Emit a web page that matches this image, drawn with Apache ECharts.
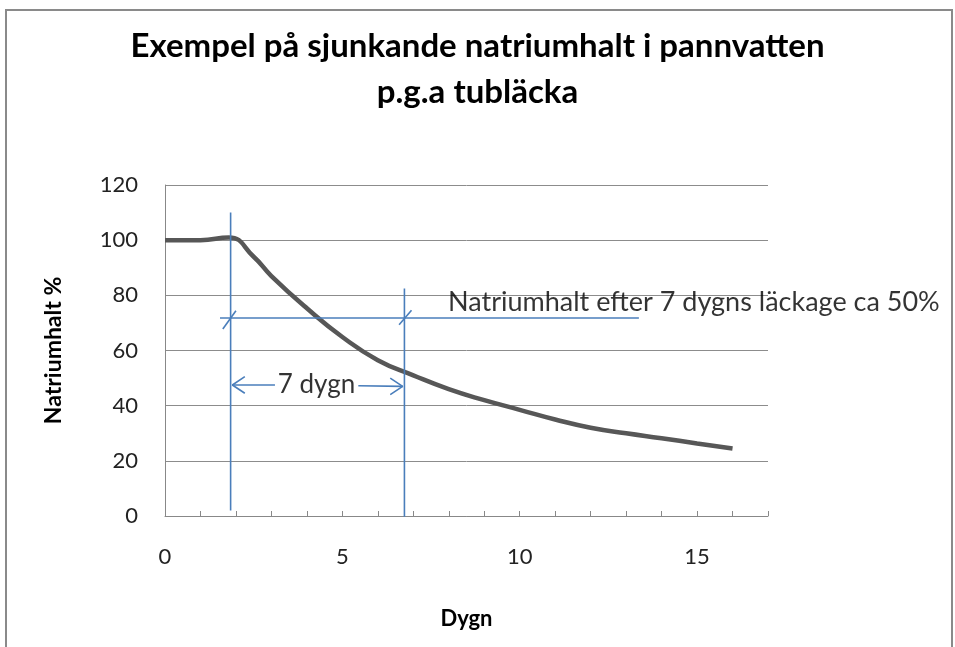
<!DOCTYPE html>
<html><head><meta charset="utf-8">
<script src="https://cdn.jsdelivr.net/npm/echarts@6/dist/echarts.min.js"></script>
<style>html,body{margin:0;padding:0;background:#fff}#c{width:955px;height:647px}</style>
</head><body><div id="c"></div>
<script>
// Data
const days = [0, 1, 1.8, 2.5, 3, 4, 5, 6, 7, 8, 9, 10, 11, 12, 13, 14, 15, 16];
const sodium = [100, 100, 101, 94, 87, 75.3, 64.9, 56.5, 51, 46, 42, 38.5, 35, 32, 30, 28.2, 26.3, 24.5];
const titleLines = ['Exempel på sjunkande natriumhalt i pannvatten', 'p.g.a tubläcka'];
const xName = 'Dygn';
const yName = 'Natriumhalt %';
const xLabelValues = [0, 5, 10, 15];
// annotation geometry (data units)
const startDay = 1.85, endDay = 6.75;
const levelY = 71.8;
const arrowY = 47.5;
const noteText = 'Natriumhalt efter 7 dygns läckage ca 50%';
const spanText = '7 dygn';

const FONT = 'Lato, "Open Sans", sans-serif';
const blue = '#4a7ebb';
const chart = echarts.init(document.getElementById('c'));

function seg(pts) {
  return {type: 'line', data: pts, symbol: 'none', silent: true, z: 5,
    lineStyle: {color: blue, width: 1.6}, animation: false};
}

chart.setOption({
  animation: false,
  title: {
    text: titleLines.join('\n'), left: 'center', top: 18,
    textStyle: {fontFamily: FONT, fontWeight: 'bold', fontSize: 33, color: '#000', lineHeight: 46}
  },
  grid: {left: 165, right: 187, top: 185, bottom: 131},
  xAxis: {
    type: 'value', min: 0, max: 17, interval: 1,
    name: xName, nameLocation: 'middle', nameGap: 92,
    nameTextStyle: {fontFamily: FONT, fontWeight: 'bold', fontSize: 22, color: '#000'},
    axisLine: {lineStyle: {color: '#888', width: 1}},
    axisTick: {show: true, inside: true, length: 5, lineStyle: {color: '#888'}},
    axisLabel: {margin: 30, fontFamily: FONT, fontSize: 22, color: '#222',
      formatter: v => xLabelValues.indexOf(v) >= 0 ? String(v) : ''},
    splitLine: {show: false}
  },
  yAxis: {
    type: 'value', min: 0, max: 120, interval: 20,
    name: yName, nameLocation: 'middle', nameGap: 100, nameRotate: 90,
    nameTextStyle: {fontFamily: FONT, fontWeight: 'bold', fontSize: 23, color: '#000'},
    axisLine: {show: true, lineStyle: {color: '#888', width: 1}},
    axisTick: {show: false},
    axisLabel: {margin: 27, fontFamily: FONT, fontSize: 22, color: '#222'},
    splitLine: {lineStyle: {color: '#8c8c8c', width: 1}}
  },
  graphic: [{type: 'rect', shape: {x: 6, y: 10, width: 946, height: 660},
    style: {fill: 'none', stroke: '#8a8a8a', lineWidth: 2}, silent: true}],
  series: [
    {type: 'line', data: days.map((d, i) => [d, sodium[i]]), smooth: 0.5, symbol: 'none',
      lineStyle: {color: '#575757', width: 4.5}, z: 3},
    // vertical at start of leak
    seg([[startDay, 2], [startDay, 110]]),
    // vertical at 7 days
    seg([[endDay, -0.8], [endDay, 82.5]]),
    // horizontal level line
    seg([[1.55, levelY], [13.36, levelY]]),
    // slash marks
    seg([[startDay - 0.22, levelY - 4], [startDay + 0.15, levelY + 2.6]]),
    seg([[endDay - 0.15, levelY - 2.5], [endDay + 0.2, levelY + 2.8]]),
    // arrow left part
    seg([[startDay + 0.05, arrowY], [3.1, arrowY]]),
    seg([[startDay + 0.4, arrowY + 3], [startDay + 0.05, arrowY], [startDay + 0.4, arrowY - 3]]),
    // arrow right part
    seg([[5.45, arrowY - 0.3], [endDay - 0.05, arrowY - 0.5]]),
    seg([[endDay - 0.4, arrowY + 2.5], [endDay - 0.05, arrowY - 0.5], [endDay - 0.4, arrowY - 3.5]]),
    // labels
    {type: 'scatter', data: [[4.27, arrowY + 0.3]], symbolSize: 0, silent: true,
      label: {show: true, position: 'inside', formatter: spanText, fontFamily: FONT, fontSize: 26,
        color: '#000', textBorderWidth: 0}},
    {type: 'scatter', data: [[7.98, 77.6]], symbolSize: 0, silent: true,
      label: {show: true, position: 'right', distance: 0, formatter: noteText, fontFamily: FONT, fontSize: 27,
        color: '#000', textBorderWidth: 0}}
  ]
});
</script></body></html>
